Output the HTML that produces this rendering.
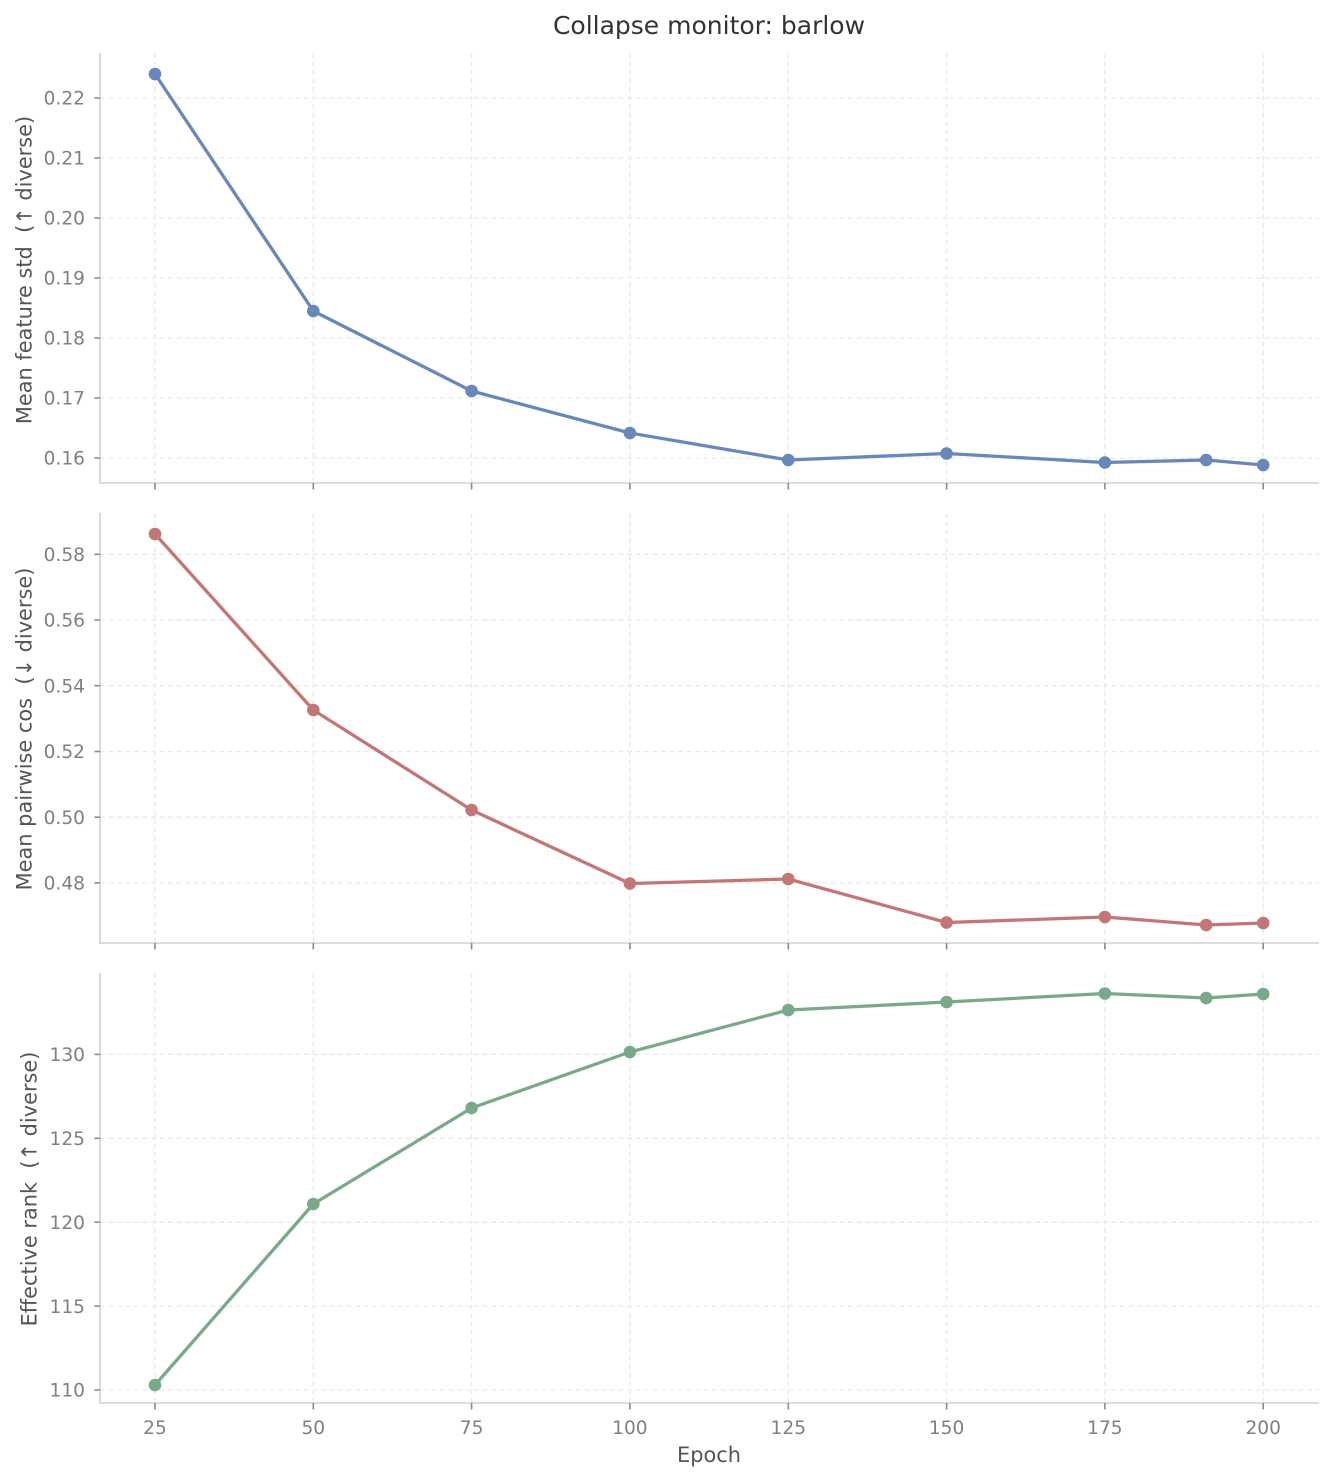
<!DOCTYPE html>
<html>
<head>
<meta charset="utf-8">
<style>
html,body{margin:0;padding:0;background:#ffffff;}
svg{display:block;}
text{font-family:"DejaVu Sans","Liberation Sans",sans-serif;}
.tick{font-size:18.6px;fill:#808080;}
.ylab{font-size:20.9px;fill:#555555;white-space:pre;}
.grid{stroke:#ebe9e3;stroke-width:1.3;stroke-dasharray:5,3.5;fill:none;}
.spine{stroke:#d2d2cc;stroke-width:1.6;fill:none;}
.tk{stroke:#8a8a8a;stroke-width:1.6;}
</style>
</head>
<body>
<svg width="1333" height="1481" viewBox="0 0 1333 1481" xmlns="http://www.w3.org/2000/svg">
<rect width="1333" height="1481" fill="#ffffff"/>

<text x="709" y="34" text-anchor="middle" style="font-size:25px;fill:#333333;">Collapse monitor: barlow</text>

<!-- TOP -->
<g>
  <g class="grid">
    <line x1="155" y1="53" x2="155" y2="483"/>
    <line x1="313.3" y1="53" x2="313.3" y2="483"/>
    <line x1="471.6" y1="53" x2="471.6" y2="483"/>
    <line x1="629.9" y1="53" x2="629.9" y2="483"/>
    <line x1="788.3" y1="53" x2="788.3" y2="483"/>
    <line x1="946.6" y1="53" x2="946.6" y2="483"/>
    <line x1="1104.9" y1="53" x2="1104.9" y2="483"/>
    <line x1="1263.2" y1="53" x2="1263.2" y2="483"/>
    <line x1="100" y1="98" x2="1319" y2="98"/>
    <line x1="100" y1="158" x2="1319" y2="158"/>
    <line x1="100" y1="218" x2="1319" y2="218"/>
    <line x1="100" y1="278" x2="1319" y2="278"/>
    <line x1="100" y1="338" x2="1319" y2="338"/>
    <line x1="100" y1="398" x2="1319" y2="398"/>
    <line x1="100" y1="458" x2="1319" y2="458"/>
  </g>
  <line class="spine" x1="100" y1="53" x2="100" y2="483.5"/>
  <line class="spine" x1="99.2" y1="483" x2="1319" y2="483"/>
  <g class="tk">
    <line x1="94.5" y1="98" x2="100" y2="98"/>
    <line x1="94.5" y1="158" x2="100" y2="158"/>
    <line x1="94.5" y1="218" x2="100" y2="218"/>
    <line x1="94.5" y1="278" x2="100" y2="278"/>
    <line x1="94.5" y1="338" x2="100" y2="338"/>
    <line x1="94.5" y1="398" x2="100" y2="398"/>
    <line x1="94.5" y1="458" x2="100" y2="458"/>
  </g>
  <g class="tk">
    <line x1="155" y1="483" x2="155" y2="489.5"/>
    <line x1="313.3" y1="483" x2="313.3" y2="489.5"/>
    <line x1="471.6" y1="483" x2="471.6" y2="489.5"/>
    <line x1="629.9" y1="483" x2="629.9" y2="489.5"/>
    <line x1="788.3" y1="483" x2="788.3" y2="489.5"/>
    <line x1="946.6" y1="483" x2="946.6" y2="489.5"/>
    <line x1="1104.9" y1="483" x2="1104.9" y2="489.5"/>
    <line x1="1263.2" y1="483" x2="1263.2" y2="489.5"/>
  </g>
  <g class="tick" text-anchor="end">
    <text x="85" y="104.7">0.22</text>
    <text x="85" y="164.7">0.21</text>
    <text x="85" y="224.7">0.20</text>
    <text x="85" y="284.7">0.19</text>
    <text x="85" y="344.7">0.18</text>
    <text x="85" y="404.7">0.17</text>
    <text x="85" y="464.7">0.16</text>
  </g>
  <text class="ylab" transform="translate(31.5,270) rotate(-90)" text-anchor="middle">Mean feature std  (↑ diverse)</text>
  <polyline fill="none" stroke="#6788b9" stroke-width="3.3" stroke-linejoin="round" stroke-linecap="round"
    points="155,74 313.3,311 471.6,391 629.9,433 788.3,460 946.6,453.5 1104.9,462.5 1206.2,460 1263.2,465"/>
  <g fill="#6788b9">
    <circle cx="155" cy="74" r="6.3"/>
    <circle cx="313.3" cy="311" r="6.3"/>
    <circle cx="471.6" cy="391" r="6.3"/>
    <circle cx="629.9" cy="433" r="6.3"/>
    <circle cx="788.3" cy="460" r="6.3"/>
    <circle cx="946.6" cy="453.5" r="6.3"/>
    <circle cx="1104.9" cy="462.5" r="6.3"/>
    <circle cx="1206.2" cy="460" r="6.3"/>
    <circle cx="1263.2" cy="465" r="6.3"/>
  </g>
</g>

<!-- MIDDLE -->
<g>
  <g class="grid">
    <line x1="155" y1="513" x2="155" y2="943"/>
    <line x1="313.3" y1="513" x2="313.3" y2="943"/>
    <line x1="471.6" y1="513" x2="471.6" y2="943"/>
    <line x1="629.9" y1="513" x2="629.9" y2="943"/>
    <line x1="788.3" y1="513" x2="788.3" y2="943"/>
    <line x1="946.6" y1="513" x2="946.6" y2="943"/>
    <line x1="1104.9" y1="513" x2="1104.9" y2="943"/>
    <line x1="1263.2" y1="513" x2="1263.2" y2="943"/>
    <line x1="100" y1="554.3" x2="1319" y2="554.3"/>
    <line x1="100" y1="620" x2="1319" y2="620"/>
    <line x1="100" y1="685.7" x2="1319" y2="685.7"/>
    <line x1="100" y1="751.5" x2="1319" y2="751.5"/>
    <line x1="100" y1="817.2" x2="1319" y2="817.2"/>
    <line x1="100" y1="882.9" x2="1319" y2="882.9"/>
  </g>
  <line class="spine" x1="100" y1="513" x2="100" y2="943.5"/>
  <line class="spine" x1="99.2" y1="943" x2="1319" y2="943"/>
  <g class="tk">
    <line x1="94.5" y1="554.3" x2="100" y2="554.3"/>
    <line x1="94.5" y1="620" x2="100" y2="620"/>
    <line x1="94.5" y1="685.7" x2="100" y2="685.7"/>
    <line x1="94.5" y1="751.5" x2="100" y2="751.5"/>
    <line x1="94.5" y1="817.2" x2="100" y2="817.2"/>
    <line x1="94.5" y1="882.9" x2="100" y2="882.9"/>
  </g>
  <g class="tk">
    <line x1="155" y1="943" x2="155" y2="949.5"/>
    <line x1="313.3" y1="943" x2="313.3" y2="949.5"/>
    <line x1="471.6" y1="943" x2="471.6" y2="949.5"/>
    <line x1="629.9" y1="943" x2="629.9" y2="949.5"/>
    <line x1="788.3" y1="943" x2="788.3" y2="949.5"/>
    <line x1="946.6" y1="943" x2="946.6" y2="949.5"/>
    <line x1="1104.9" y1="943" x2="1104.9" y2="949.5"/>
    <line x1="1263.2" y1="943" x2="1263.2" y2="949.5"/>
  </g>
  <g class="tick" text-anchor="end">
    <text x="85" y="561">0.58</text>
    <text x="85" y="626.7">0.56</text>
    <text x="85" y="692.4">0.54</text>
    <text x="85" y="758.2">0.52</text>
    <text x="85" y="823.9">0.50</text>
    <text x="85" y="889.6">0.48</text>
  </g>
  <text class="ylab" transform="translate(31.5,729) rotate(-90)" text-anchor="middle">Mean pairwise cos  (↓ diverse)</text>
  <polyline fill="none" stroke="#c27676" stroke-width="3.3" stroke-linejoin="round" stroke-linecap="round"
    points="155,534 313.3,710 471.6,810 629.9,883.5 788.3,879 946.6,922.5 1104.9,917 1206.2,925 1263.2,923"/>
  <g fill="#c27676">
    <circle cx="155" cy="534" r="6.3"/>
    <circle cx="313.3" cy="710" r="6.3"/>
    <circle cx="471.6" cy="810" r="6.3"/>
    <circle cx="629.9" cy="883.5" r="6.3"/>
    <circle cx="788.3" cy="879" r="6.3"/>
    <circle cx="946.6" cy="922.5" r="6.3"/>
    <circle cx="1104.9" cy="917" r="6.3"/>
    <circle cx="1206.2" cy="925" r="6.3"/>
    <circle cx="1263.2" cy="923" r="6.3"/>
  </g>
</g>

<!-- BOTTOM -->
<g>
  <g class="grid">
    <line x1="155" y1="973" x2="155" y2="1403"/>
    <line x1="313.3" y1="973" x2="313.3" y2="1403"/>
    <line x1="471.6" y1="973" x2="471.6" y2="1403"/>
    <line x1="629.9" y1="973" x2="629.9" y2="1403"/>
    <line x1="788.3" y1="973" x2="788.3" y2="1403"/>
    <line x1="946.6" y1="973" x2="946.6" y2="1403"/>
    <line x1="1104.9" y1="973" x2="1104.9" y2="1403"/>
    <line x1="1263.2" y1="973" x2="1263.2" y2="1403"/>
    <line x1="100" y1="1054.4" x2="1319" y2="1054.4"/>
    <line x1="100" y1="1138.3" x2="1319" y2="1138.3"/>
    <line x1="100" y1="1222.2" x2="1319" y2="1222.2"/>
    <line x1="100" y1="1306.1" x2="1319" y2="1306.1"/>
    <line x1="100" y1="1390" x2="1319" y2="1390"/>
  </g>
  <line class="spine" x1="100" y1="973" x2="100" y2="1403.5"/>
  <line class="spine" x1="99.2" y1="1403" x2="1319" y2="1403"/>
  <g class="tk">
    <line x1="94.5" y1="1054.4" x2="100" y2="1054.4"/>
    <line x1="94.5" y1="1138.3" x2="100" y2="1138.3"/>
    <line x1="94.5" y1="1222.2" x2="100" y2="1222.2"/>
    <line x1="94.5" y1="1306.1" x2="100" y2="1306.1"/>
    <line x1="94.5" y1="1390" x2="100" y2="1390"/>
  </g>
  <g class="tk">
    <line x1="155" y1="1403" x2="155" y2="1409.5"/>
    <line x1="313.3" y1="1403" x2="313.3" y2="1409.5"/>
    <line x1="471.6" y1="1403" x2="471.6" y2="1409.5"/>
    <line x1="629.9" y1="1403" x2="629.9" y2="1409.5"/>
    <line x1="788.3" y1="1403" x2="788.3" y2="1409.5"/>
    <line x1="946.6" y1="1403" x2="946.6" y2="1409.5"/>
    <line x1="1104.9" y1="1403" x2="1104.9" y2="1409.5"/>
    <line x1="1263.2" y1="1403" x2="1263.2" y2="1409.5"/>
  </g>
  <g class="tick" text-anchor="end">
    <text x="85" y="1061.1">130</text>
    <text x="85" y="1145">125</text>
    <text x="85" y="1228.9">120</text>
    <text x="85" y="1312.8">115</text>
    <text x="85" y="1396.7">110</text>
  </g>
  <g class="tick" text-anchor="middle">
    <text x="155" y="1434">25</text>
    <text x="313.3" y="1434">50</text>
    <text x="471.6" y="1434">75</text>
    <text x="629.9" y="1434">100</text>
    <text x="788.3" y="1434">125</text>
    <text x="946.6" y="1434">150</text>
    <text x="1104.9" y="1434">175</text>
    <text x="1263.2" y="1434">200</text>
  </g>
  <text x="709" y="1462" text-anchor="middle" style="font-size:20.9px;fill:#555555;">Epoch</text>
  <text class="ylab" transform="translate(36.5,1189) rotate(-90)" text-anchor="middle">Effective rank  (↑ diverse)</text>
  <polyline fill="none" stroke="#7aa98a" stroke-width="3.3" stroke-linejoin="round" stroke-linecap="round"
    points="155,1385 313.3,1204 471.6,1108 629.9,1052 788.3,1010 946.6,1002 1104.9,993.5 1206.2,998 1263.2,994"/>
  <g fill="#7aa98a">
    <circle cx="155" cy="1385" r="6.3"/>
    <circle cx="313.3" cy="1204" r="6.3"/>
    <circle cx="471.6" cy="1108" r="6.3"/>
    <circle cx="629.9" cy="1052" r="6.3"/>
    <circle cx="788.3" cy="1010" r="6.3"/>
    <circle cx="946.6" cy="1002" r="6.3"/>
    <circle cx="1104.9" cy="993.5" r="6.3"/>
    <circle cx="1206.2" cy="998" r="6.3"/>
    <circle cx="1263.2" cy="994" r="6.3"/>
  </g>
</g>
</svg>
</body>
</html>
